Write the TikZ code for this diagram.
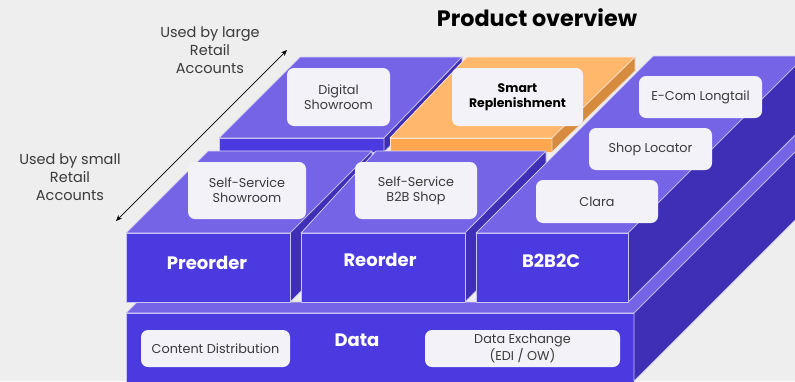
\documentclass[tikz,border=0pt]{standalone}
\usepackage{fontspec}
\setmainfont{Poppins}
\usepackage{xcolor}
\usepackage{tikz}
\usetikzlibrary{arrows.meta}

\definecolor{bgray}{HTML}{EEEEEE}
\definecolor{ptop}{HTML}{7565E6}
\definecolor{pfront}{HTML}{4B3AE0}
\definecolor{pside}{HTML}{3F2FB6}
\definecolor{otop}{HTML}{FFB76B}
\definecolor{ofront}{HTML}{FFA74F}
\definecolor{oside}{HTML}{D68B3F}
\definecolor{boxfill}{HTML}{F3F2F8}
\definecolor{txt}{HTML}{3A3A3A}

\begin{document}
\begin{tikzpicture}[x=1pt,y=-1pt,line join=round,
                    top face/.style={fill=ptop,draw=white!70!ptop,line width=0.7pt},
                    front face/.style={fill=pfront,draw=white!70!pfront,line width=0.7pt},
                    side face/.style={fill=pside,draw=white!70!pside,line width=0.7pt},
                    box node/.style={rounded corners=7pt,fill=boxfill,text=txt,align=center,inner sep=0pt,font=\fontsize{12.8}{14.8}\selectfont},
                    block label/.style={text=white,font=\bfseries\fontsize{18}{20}\selectfont},
                    side label/.style={text=txt,align=center,font=\fontsize{14.5}{18}\selectfont}]

 \fill[bgray] (0,0) rectangle (795,381);
 \useasboundingbox (0,0) rectangle (795,381);
 \clip (0,0) rectangle (795,381);

 % data layer
 \draw[top face] (126,313) -- (137,302) -- (628,302) -- (805,125) -- (805,142) -- (634,313) -- cycle;
 \draw[front face] (126,313) rectangle (634,390);
 \draw[side face] (634,313) -- (805,142) -- (805,210) -- (634,381) -- cycle;

 % back row
 \draw[front face] (219,138) rectangle (384,152);
 \draw[top face] (219,138) -- (300,57) -- (462,57) -- (384,138) -- cycle;
 \draw[side face] (384,138) -- (462,57) -- (462,71) -- (384,152) -- cycle;

 \draw[fill=ofront,draw=white!70!ofront,line width=0.7pt] (390,138) rectangle (552,152);
 \draw[fill=otop,draw=white!70!otop,line width=0.7pt] (390,138) -- (467,57) -- (635,57) -- (552,138) -- cycle;
 \draw[fill=oside,draw=white!70!oside,line width=0.7pt] (552,138) -- (635,57) -- (635,71) -- (552,152) -- cycle;

 % front row
 \draw[top face] (126,233) -- (208,151) -- (372,151) -- (290,233) -- cycle;
 \draw[side face] (290,233) -- (372,151) -- (372,220) -- (290,302) -- cycle;
 \draw[front face] (126,233) rectangle (290,302);

 \draw[top face] (301,233) -- (376,151) -- (546,151) -- (465,233) -- cycle;
 \draw[side face] (465,233) -- (546,151) -- (546,220) -- (465,302) -- cycle;
 \draw[front face] (301,233) rectangle (465,302);

 \draw[top face] (476,233) -- (653,56) -- (805,56) -- (628,233) -- cycle;
 \draw[side face] (628,233) -- (805,56) -- (805,125) -- (628,302) -- cycle;
 \draw[front face] (476,233) rectangle (628,302);

 \node[block label] (pre) at (207,263) {Preorder};
 \node[block label] (reord) at (380,260) {Reorder};
 \node[block label] (b2b2c) at (551,261) {B2B2C};
 \node[block label] (data) at (357,340) {Data};

 \node[box node,minimum width=103pt,minimum height=58pt] (digital) at (338.5,97) {Digital\\Showroom};
 \node[box node,minimum width=131pt,minimum height=58pt,text=black,font=\bfseries\fontsize{12.4}{14.8}\selectfont] (smart) at (517.5,97) {Smart\\Replenishment};
 \node[box node,minimum width=123pt,minimum height=42pt] (ecom) at (700.5,97) {E-Com Longtail};
 \node[box node,minimum width=123pt,minimum height=42pt] (locator) at (650.5,149) {Shop Locator};
 \node[box node,minimum width=122pt,minimum height=43pt] (clara) at (597,201.5) {Clara};
 \node[box node,minimum width=118pt,minimum height=57pt] (ssshow) at (247,190.5) {Self-Service\\Showroom};
 \node[box node,minimum width=122pt,minimum height=57pt] (ssshop) at (416,190.5) {Self-Service\\B2B Shop};
 \node[box node,minimum width=149pt,minimum height=37pt] (content) at (215.5,348.5) {Content Distribution};
 \node[box node,minimum width=195pt,minimum height=37pt] (exchange) at (522.5,348.5) {Data Exchange\\(EDI / OW)};

 \node[font=\bfseries\fontsize{22.3}{26}\selectfont] (title) at (537,18) {Product overview};
 \node[side label] (large) at (210,50) {Used by large\\Retail\\Accounts};
 \node[side label] (small) at (70,177) {Used by small\\Retail\\Accounts};

 \coordinate (low) at (116,221);
 \coordinate (high) at (287,50);
 \draw[{Stealth[length=6pt,width=5pt]}-{Stealth[length=6pt,width=5pt]},line width=0.7pt] (low) -- (high);

\end{tikzpicture}
\end{document}
